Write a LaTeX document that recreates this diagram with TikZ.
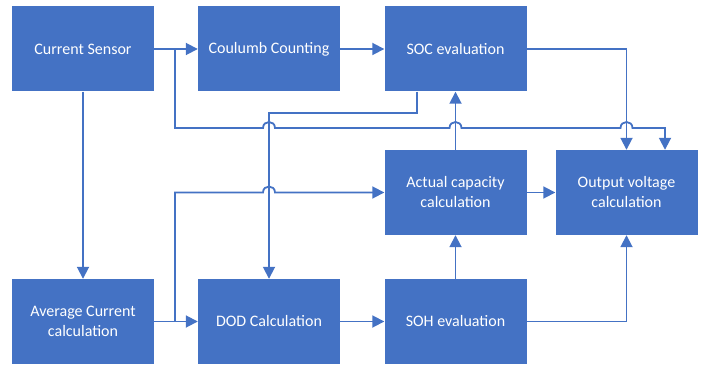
\documentclass[tikz,border=0pt]{standalone}
\usepackage{fontspec}
\setmainfont{Carlito}
\usetikzlibrary{arrows.meta}
\definecolor{boxblue}{RGB}{68,114,196}
\tikzset{
  blk/.style={draw=none, fill=boxblue, minimum width=142pt, minimum height=85pt,
    inner sep=0pt, text=white, align=center, font=\fontsize{16}{20}\selectfont},
  arr/.style={draw=boxblue, line width=1.8pt, -{Triangle[length=12pt,width=12pt]}},
  ln/.style={draw=boxblue, line width=1.8pt}
}
\begin{document}
\begin{tikzpicture}[x=1pt,y=-1pt]
\useasboundingbox (0,0) rectangle (703,366);
\node[blk] (cs)  at (83,49)      {Current Sensor};
\node[blk] (cc)  at (269,49)     {Coulumb Counting};
\node[blk] (soc) at (455.5,49)   {SOC evaluation};
\node[blk] (acc) at (455.5,192.5){Actual capacity\\calculation};
\node[blk] (ov)  at (626.5,192.5){Output voltage\\calculation};
\node[blk] (avg) at (83,321.5)   {Average Current\\calculation};
\node[blk] (dod) at (269,321.5)  {DOD Calculation};
\node[blk] (soh) at (455.5,321.5){SOH evaluation};
\coordinate (b1) at (175,49);
\coordinate (b2) at (175,321.5);
% top row
\draw[arr] (cs.east) -- (cc.west);
\draw[arr] (cc.east) -- (soc.west);
\draw[arr] (soc.east) -| (ov.north);
% SOC -> DOD
\draw[arr] ([xshift=-38.5pt]soc.south) -- (417,113) -| (dod.north);
% current sensor branch to output voltage with hops
\draw[arr] (b1) -- (175,128) -- (263,128)
  .. controls (263,120) and (275,120) .. (275,128) -- (449.5,128)
  .. controls (449.5,120) and (461.5,120) .. (461.5,128) -- (620.5,128)
  .. controls (620.5,120) and (632.5,120) .. (632.5,128) -- (665,128)
  -- ([xshift=38.5pt]ov.north);
% left column
\draw[arr] (cs.south) -- (avg.north);
\draw[arr] (avg.east) -- (dod.west);
\draw[arr] (b2) -- (175,192.5) -- (263,192.5)
  .. controls (263,184.5) and (275,184.5) .. (275,192.5) -- (acc.west);
% bottom
\draw[arr] (dod.east) -- (soh.west);
\draw[arr] (soh.north) -- (acc.south);
\draw[arr] (acc.north) -- (soc.south);
\draw[arr] (acc.east) -- (ov.west);
\draw[arr] (soh.east) -| (ov.south);
\end{tikzpicture}
\end{document}
